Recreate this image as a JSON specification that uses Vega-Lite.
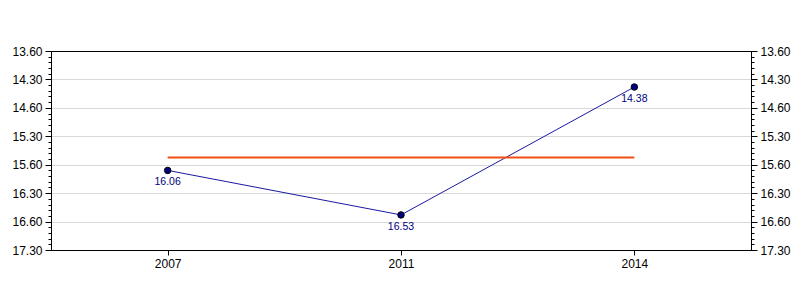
{
  "$schema": "https://vega.github.io/schema/vega-lite/v6.json",
  "width": 700,
  "height": 199,
  "autosize": "none",
  "padding": {"left": 51, "top": 51, "right": 49, "bottom": 50},
  "background": "white",
  "config": {
    "view": {"stroke": "black", "strokeWidth": 1},
    "axis": {"labelFont": "Liberation Sans", "labelFontSize": 12, "labelColor": "#000000", "domainColor": "#000000", "tickColor": "#000000", "titleFont": "Liberation Sans"}
  },
  "data": {
    "values": [
      {"year": "2007", "time": 16.1, "label": "16.06"},
      {"year": "2011", "time": 16.8833, "label": "16.53"},
      {"year": "2014", "time": 14.6333, "label": "14.38"}
    ]
  },
  "encoding": {
    "x": {"field": "year", "type": "ordinal", "scale": {"type": "point", "padding": 0.5},
      "axis": {"title": null, "labelAngle": 0, "tickSize": 5, "labelPadding": 3, "grid": false, "domainColor": "#000000"}}
  },
  "layer": [
    {
      "mark": {"type": "line", "color": "#1a1aa0", "strokeWidth": 1},
      "encoding": {
        "y": {"field": "time", "type": "quantitative",
          "scale": {"domain": [14, 17.5], "reverse": true, "zero": false, "nice": false},
          "axis": {"orient": "left", "title": null, "values": [14, 14.5, 15, 15.5, 16, 16.5, 17, 17.5],
            "labelExpr": "floor(datum.value-0.01) + '.' + format(round((datum.value - floor(datum.value-0.01))*60), '02d')",
            "grid": true,
            "gridColor": {"condition": {"test": "datum.value == 14 || datum.value == 17.5", "value": "#000000"}, "value": "#d9d9d9"},
            "tickSize": 6, "labelPadding": 3}}
      }
    },
    {
      "mark": {"type": "point", "filled": true, "size": 42, "color": "#000080", "stroke": "#000000", "strokeWidth": 1, "opacity": 1},
      "encoding": {
        "y": {"field": "time", "type": "quantitative",
          "scale": {"domain": [14, 17.5], "reverse": true, "zero": false, "nice": false},
          "axis": {"orient": "right", "title": null, "values": [14, 14.5, 15, 15.5, 16, 16.5, 17, 17.5],
            "labelExpr": "floor(datum.value-0.01) + '.' + format(round((datum.value - floor(datum.value-0.01))*60), '02d')",
            "grid": false, "tickSize": 6, "labelPadding": 3}}
      }
    },
    {
      "mark": {"type": "text", "color": "#000080", "font": "Liberation Sans", "fontSize": 10.5, "dy": 12, "baseline": "middle"},
      "encoding": {
        "text": {"field": "label"},
        "y": {"field": "time", "type": "quantitative",
          "scale": {"domain": [14, 17.5], "reverse": true, "zero": false, "nice": false},
          "axis": {"orient": "left", "title": null, "values": [14.1,14.2,14.3,14.4,14.6,14.7,14.8,14.9,15.1,15.2,15.3,15.4,15.6,15.7,15.8,15.9,16.1,16.2,16.3,16.4,16.6,16.7,16.8,16.9,17.1,17.2,17.3,17.4],
            "labels": false, "grid": false, "tickSize": 3, "domain": false}}
      }
    },
    {
      "transform": [{"joinaggregate": [{"op": "mean", "field": "time", "as": "avg"}]}],
      "mark": {"type": "line", "color": "#f04e12", "strokeWidth": 2},
      "encoding": {
        "y": {"field": "avg", "type": "quantitative",
          "scale": {"domain": [14, 17.5], "reverse": true, "zero": false, "nice": false},
          "axis": {"orient": "right", "title": null, "values": [14.1,14.2,14.3,14.4,14.6,14.7,14.8,14.9,15.1,15.2,15.3,15.4,15.6,15.7,15.8,15.9,16.1,16.2,16.3,16.4,16.6,16.7,16.8,16.9,17.1,17.2,17.3,17.4],
            "labels": false, "grid": false, "tickSize": 3, "domain": false}}
      }
    }
  ],
  "resolve": {"axis": {"y": "independent"}}
}
